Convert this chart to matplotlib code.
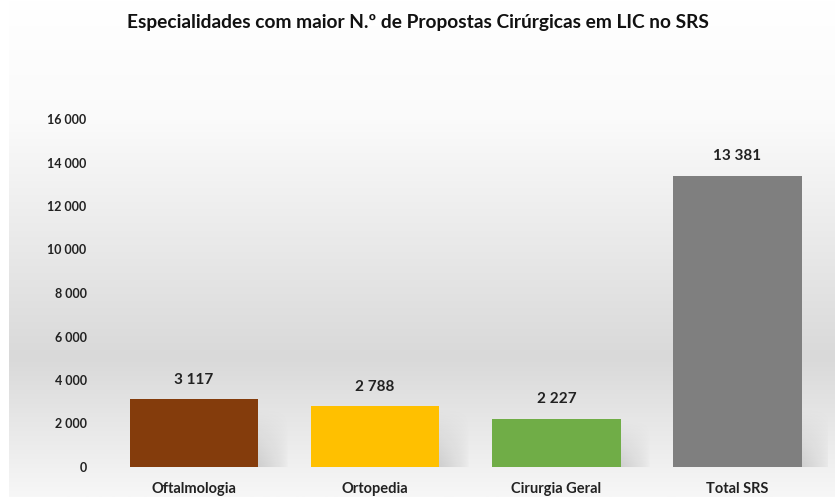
import numpy as np
import matplotlib

matplotlib.use("Agg")
import matplotlib.pyplot as plt
from matplotlib.colors import LinearSegmentedColormap

categories = ["Oftalmologia", "Ortopedia", "Cirurgia Geral", "Total SRS"]
values = [3117, 2788, 2227, 13381]
colors = ["#843C0C", "#FFC000", "#70AD47", "#7F7F7F"]
yticks = [0, 2000, 4000, 6000, 8000, 10000, 12000, 14000, 16000]
title = "Especialidades com maior N.º de Propostas Cirúrgicas em LIC no SRS"


def fmt(v):
    # thousands separated with a space, as in the source
    return f"{v:,}".replace(",", " ")


plt.rcParams["font.family"] = ["Lato", "DejaVu Sans"]

fig = plt.figure(figsize=(8.35, 5.0), dpi=100)
fig.patch.set_facecolor("white")

# gradient background panel
bg = fig.add_axes([0.011, 0.006, 0.989, 0.994], zorder=0)
cmap = LinearSegmentedColormap.from_list(
    "bg", [(0.0, "#ffffff"), (0.25, "#fafafa"), (0.72, "#d9d9d9"), (1.0, "#f7f7f7")])
grad = np.linspace(0, 1, 256).reshape(-1, 1)
bg.imshow(grad, aspect="auto", cmap=cmap, extent=[0, 1, 1, 0])
bg.set_axis_off()

ax = fig.add_axes([0.1238, 0.066, 0.868, 0.696], zorder=1)
ax.patch.set_alpha(0)

x = np.arange(len(categories))
width = 0.71
bars = ax.bar(x, values, width=width, color=colors, zorder=3)

# soft shadow at the lower right of each bar
gx, gy = np.meshgrid(np.linspace(0, 1, 60), np.linspace(0, 1, 60))
for xi, v in zip(x, values):
    h = min(v, 2800)
    sh = np.zeros((60, 60, 4))
    sh[..., 3] = 0.4 * (1 - gy) ** 1.2 * np.clip(1 - gx, 0, 1) ** 0.7
    ax.imshow(sh, extent=[xi - width / 2 + 0.1, xi + width / 2 + 0.17, 0, h],
              origin="lower", aspect="auto", zorder=2, interpolation="bilinear")

for xi, v in zip(x, values):
    ax.annotate(fmt(v), (xi, v), xytext=(0, 9), textcoords="offset points",
                ha="center", va="bottom", fontsize=11, fontweight="bold", color="#222222")

ax.set_xlim(-0.5, 3.5)
ax.set_ylim(0, 16000)
ax.set_yticks(yticks)
ax.set_yticklabels([fmt(t) for t in yticks], fontsize=9, fontweight="bold", color="#222222")
ax.set_xticks(x)
ax.set_xticklabels(categories, fontsize=10.5, fontweight="bold", color="#222222")
ax.tick_params(axis="both", length=0)
ax.tick_params(axis="y", pad=12)
ax.tick_params(axis="x", pad=11)
for s in ax.spines.values():
    s.set_visible(False)

fig.text(0.5, 0.955, title, ha="center", va="center", fontsize=13.8, fontweight="bold", color="#111111")

fig.savefig("out.png", dpi=100)
